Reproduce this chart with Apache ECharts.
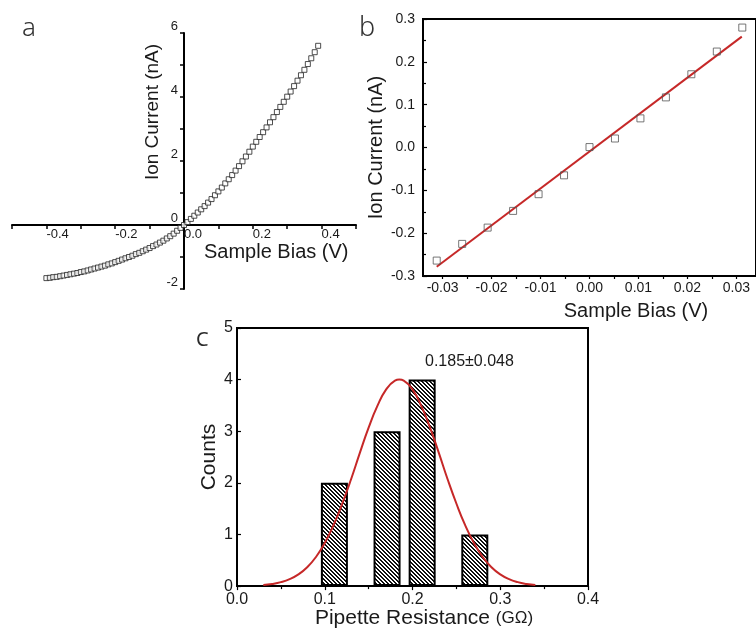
<!DOCTYPE html>
<html>
<head>
<meta charset="utf-8">
<script src="https://cdn.jsdelivr.net/npm/echarts@6/dist/echarts.min.js"></script>
<style>html,body{margin:0;padding:0;background:#fff}#c{width:756px;height:630px}</style>
</head>
<body>
<div id="c"></div>
<script>
// Panel a: I-V curve
const biasA = [-0.40,-0.39,-0.38,-0.37,-0.36,-0.35,-0.34,-0.33,-0.32,-0.31,-0.30,-0.29,-0.28,-0.27,-0.26,-0.25,-0.24,-0.23,-0.22,-0.21,-0.20,-0.19,-0.18,-0.17,-0.16,-0.15,-0.14,-0.13,-0.12,-0.11,-0.10,-0.09,-0.08,-0.07,-0.06,-0.05,-0.04,-0.03,-0.02,-0.01,0.00,0.01,0.02,0.03,0.04,0.05,0.06,0.07,0.08,0.09,0.10,0.11,0.12,0.13,0.14,0.15,0.16,0.17,0.18,0.19,0.20,0.21,0.22,0.23,0.24,0.25,0.26,0.27,0.28,0.29,0.30,0.31,0.32,0.33,0.34,0.35,0.36,0.37,0.38,0.39];
const currentA = [-1.66,-1.65,-1.63,-1.62,-1.60,-1.58,-1.56,-1.54,-1.52,-1.50,-1.47,-1.45,-1.42,-1.39,-1.36,-1.33,-1.30,-1.27,-1.23,-1.20,-1.16,-1.12,-1.08,-1.04,-1.00,-0.96,-0.91,-0.87,-0.82,-0.77,-0.72,-0.66,-0.61,-0.55,-0.49,-0.42,-0.35,-0.27,-0.18,-0.09,0.00,0.09,0.19,0.29,0.39,0.49,0.59,0.70,0.81,0.93,1.05,1.17,1.30,1.43,1.56,1.70,1.84,1.99,2.14,2.29,2.45,2.60,2.75,2.90,3.05,3.21,3.37,3.53,3.69,3.85,4.01,4.17,4.34,4.51,4.68,4.85,5.03,5.21,5.40,5.60];

// Panel b: small-bias linear region
const biasB = [-0.0312,-0.0260,-0.0208,-0.0156,-0.0104,-0.0052,0.0000,0.0052,0.0104,0.0156,0.0208,0.0260,0.0312];
const currentB = [-0.264,-0.225,-0.187,-0.148,-0.109,-0.065,0.001,0.021,0.068,0.117,0.171,0.224,0.280];
const fitBiasB = [-0.0312,0.0311];
const fitCurrentB = [-0.2785,0.2589];
const tickLabelsB = [-0.03,-0.02,-0.01,0.00,0.01,0.02,0.03];
const tickMarksB = [-0.03,-0.025,-0.02,-0.015,-0.01,-0.005,0,0.005,0.01,0.015,0.02,0.025,0.03];

// Panel c: histogram of pipette resistance + Gaussian fit
const binCenters = [0.111,0.171,0.211,0.271];
const binCounts = [2,3,4,1];
const fitX = [0.03,0.04,0.05,0.06,0.07,0.08,0.09,0.10,0.11,0.12,0.13,0.14,0.15,0.16,0.17,0.18,0.185,0.19,0.20,0.21,0.22,0.23,0.24,0.25,0.26,0.27,0.28,0.29,0.30,0.31,0.32,0.33,0.34];
const fitY = [0.022,0.042,0.077,0.135,0.227,0.366,0.564,0.834,1.18,1.60,2.07,2.58,3.07,3.49,3.81,3.98,4.00,3.98,3.81,3.49,3.07,2.58,2.07,1.60,1.18,0.834,0.564,0.366,0.227,0.135,0.077,0.042,0.022];
const fitLabel = '0.185\u00b10.048';

const FONT = "'Liberation Sans', Arial, sans-serif";
const TXT = '#1a1a1a';

// hatch pattern for bars
const pc = document.createElement('canvas');
pc.width = 4; pc.height = 4;
const pctx = pc.getContext('2d');
const img = pctx.createImageData(4,4);
for (let y=0;y<4;y++) for (let x=0;x<4;x++) {
  const k = ((x - y) % 4 + 4) % 4;
  const v = (k===0||k===1) ? 15 : 255;
  const i = (y*4+x)*4;
  img.data[i]=v; img.data[i+1]=v; img.data[i+2]=v; img.data[i+3]=255;
}
pctx.putImageData(img,0,0);

const chart = echarts.init(document.getElementById('c'), null, {renderer:'canvas'});

const option = {
  animation: false,
  backgroundColor: '#fff',
  grid: [
    {left:12, top:33, width:344, height:256, show:false},
    {left:423, top:19, width:343, height:257, show:true, borderColor:'#000', borderWidth:2, backgroundColor:'transparent'},
    {left:237, top:328, width:351, height:261, show:true, borderColor:'#000', borderWidth:2, backgroundColor:'transparent'}
  ],
  xAxis: [
    {gridIndex:0, type:'value', min:-0.5, max:0.5, interval:0.1, position:'bottom', offset:-64,
     axisLine:{onZero:false, lineStyle:{color:'#000', width:2}},
     axisTick:{show:true, length:4, lineStyle:{color:'#000', width:1.5}},
     axisLabel:{fontSize:13, fontFamily:FONT, color:TXT, align:'left', margin:3,
       formatter: v => { const t = Math.round(v*10); return (t%2===0 && Math.abs(t)<5) ? (t/10).toFixed(1) : ''; }},
     splitLine:{show:false}},
    {gridIndex:1, type:'value', min:-0.034, max:0.034,
     axisLine:{onZero:false, lineStyle:{color:'#000', width:2}},
     axisTick:{show:true, length:3, inside:false, customValues:tickMarksB, lineStyle:{color:'#000', width:1.2}},
     axisLabel:{fontSize:14, fontFamily:FONT, color:TXT, margin:5, customValues:tickLabelsB,
       formatter: v => v.toFixed(2)},
     splitLine:{show:false}},
    {gridIndex:2, type:'value', min:0, max:0.4, interval:0.1,
     name:'{a|Pipette Resistance }{b|(G\u03a9)}', nameLocation:'middle', nameGap:18,
     nameTextStyle:{padding:[0,0,0,23], rich:{a:{fontSize:21, fontFamily:FONT, color:TXT}, b:{fontSize:17, fontFamily:FONT, color:TXT}}},
     axisLine:{onZero:false, lineStyle:{color:'#000', width:2}},
     axisTick:{show:true, length:4, lineStyle:{color:'#000', width:1.2}},
     minorTick:{show:true, splitNumber:2, length:3, lineStyle:{color:'#000', width:1.2}},
     axisLabel:{fontSize:16, fontFamily:FONT, color:TXT, margin:5, formatter: v => v.toFixed(1)},
     splitLine:{show:false}}
  ],
  yAxis: [
    {gridIndex:0, type:'value', min:-2, max:6, interval:1, position:'left', offset:-172,
     axisLine:{onZero:false, lineStyle:{color:'#000', width:2}},
     axisTick:{show:true, length:4, lineStyle:{color:'#000', width:1.5}},
     axisLabel:{fontSize:13, fontFamily:FONT, color:TXT, verticalAlign:'bottom', margin:6,
       formatter: v => { const t = Math.round(v); return t%2===0 ? String(t) : ''; }},
     splitLine:{show:false}},
    {gridIndex:1, type:'value', min:-0.3, max:0.3, interval:0.1,
     name:'Ion Current (nA)', nameLocation:'middle', nameGap:28,
     nameTextStyle:{fontSize:20, fontFamily:FONT, color:TXT},
     axisLine:{onZero:false, lineStyle:{color:'#000', width:2}},
     axisTick:{show:true, length:4, inside:true, lineStyle:{color:'#000', width:1.2}},
     minorTick:{show:true, splitNumber:2, length:3, lineStyle:{color:'#000', width:1.2}},
     axisLabel:{fontSize:14, fontFamily:FONT, color:TXT, margin:8, formatter: v => v.toFixed(1)},
     splitLine:{show:false}, minorSplitLine:{show:false}},
    {gridIndex:2, type:'value', min:0, max:5, interval:1,
     name:'Counts', nameLocation:'middle', nameGap:15,
     nameTextStyle:{fontSize:21, fontFamily:FONT, color:TXT},
     axisLine:{onZero:false, lineStyle:{color:'#000', width:2}},
     axisTick:{show:true, length:4, inside:true, lineStyle:{color:'#000', width:1.2}},
     axisLabel:{fontSize:16, fontFamily:FONT, color:TXT, margin:4},
     splitLine:{show:false}}
  ],
  series: [
    {type:'scatter', xAxisIndex:0, yAxisIndex:0, symbol:'rect', symbolSize:5,
     itemStyle:{color:'#fff', borderColor:'#222', borderWidth:1},
     data: biasA.map((x,i)=>[x, currentA[i]])},
    {type:'line', xAxisIndex:1, yAxisIndex:1, showSymbol:false, symbol:'none',
     lineStyle:{color:'#c62828', width:2},
     data: fitBiasB.map((x,i)=>[x, fitCurrentB[i]]), z:2},
    {type:'scatter', xAxisIndex:1, yAxisIndex:1, symbol:'rect', symbolSize:7,
     itemStyle:{color:'rgba(255,255,255,0)', borderColor:'#555', borderWidth:1},
     data: biasB.map((x,i)=>[x, currentB[i]]), z:3},
    {type:'bar', xAxisIndex:2, yAxisIndex:2, barWidth:27,
     itemStyle:{color:{image:pc, repeat:'repeat'}, borderColor:'#000', borderWidth:2},
     data: binCenters.map((x,i)=>[x, binCounts[i]])},
    {type:'line', xAxisIndex:2, yAxisIndex:2, smooth:true, showSymbol:false, symbol:'none',
     lineStyle:{color:'#c62828', width:2},
     data: fitX.map((x,i)=>[x, fitY[i]]), z:4}
  ],
  graphic: [
    {type:'text', x:22, y:29, style:{text:'a', fontSize:26, fontFamily:"'Noto Sans', sans-serif", fontWeight:300, fill:'#333', textAlign:'left', textVerticalAlign:'middle', align:'left', verticalAlign:'middle'}},
    {type:'text', x:359, y:28, style:{text:'b', fontSize:27, fontFamily:"'Noto Sans', sans-serif", fontWeight:300, fill:'#333', textAlign:'left', textVerticalAlign:'middle', align:'left', verticalAlign:'middle'}},
    {type:'text', x:196, y:340, style:{text:'C', fontSize:20, fontFamily:"'Noto Sans', sans-serif", fill:'#2a2a2a', textAlign:'left', textVerticalAlign:'middle', align:'left', verticalAlign:'middle'}},
    {type:'text', x:153, y:112, rotation:Math.PI/2, style:{text:'Ion Current (nA)', fontSize:19, fontFamily:FONT, fill:TXT, textAlign:'center', textVerticalAlign:'middle', align:'center', verticalAlign:'middle'}},
    {type:'text', x:204, y:252, style:{text:'Sample Bias (V)', fontSize:20, fontFamily:FONT, fill:TXT, textAlign:'left', textVerticalAlign:'middle', align:'left', verticalAlign:'middle'}},
    {type:'text', x:636, y:311, style:{text:'Sample Bias (V)', fontSize:20, fontFamily:FONT, fill:TXT, textAlign:'center', textVerticalAlign:'middle', align:'center', verticalAlign:'middle'}},
    {type:'text', x:425, y:362, style:{text:fitLabel, fontSize:16, fontFamily:FONT, fill:TXT, textAlign:'left', textVerticalAlign:'middle', align:'left', verticalAlign:'middle'}}
  ]
};
chart.setOption(option);
</script>
</body>
</html>
